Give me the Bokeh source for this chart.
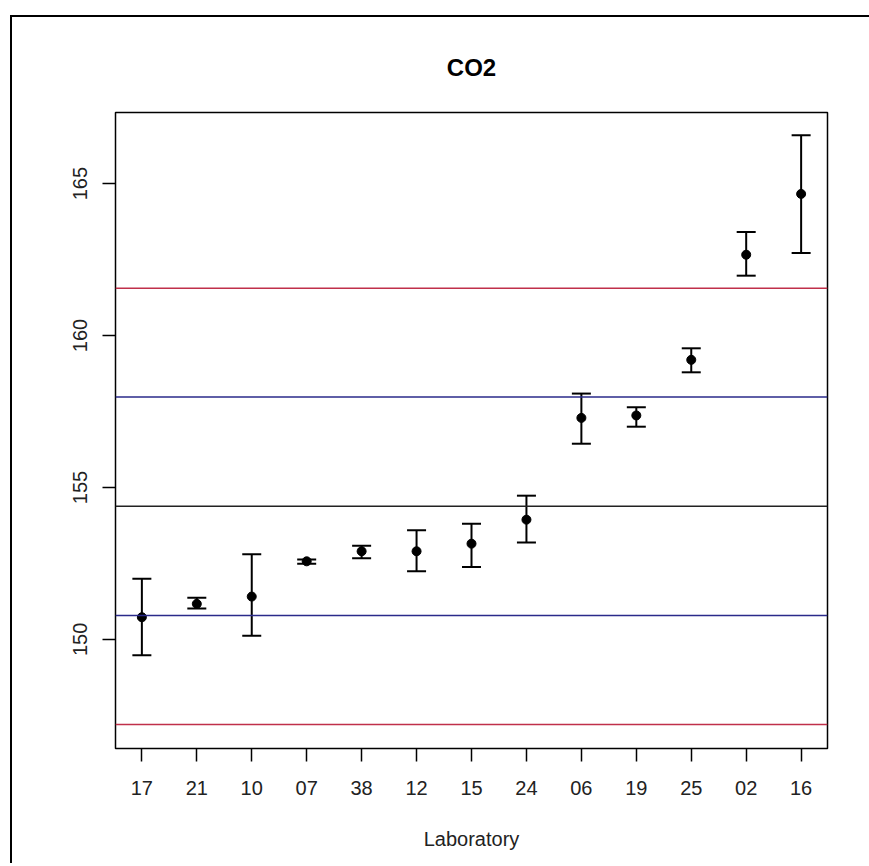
from bokeh.plotting import figure
from bokeh.models import ColumnDataSource, Range1d, FixedTicker, Span, Whisker, TeeHead
from bokeh.embed import file_html
from bokeh.resources import INLINE

# laboratories in plotted order, means and interval ends
labs = ["17", "21", "10", "07", "38", "12", "15", "24", "06", "19", "25", "02", "16"]
means = [150.73, 151.17, 151.41, 152.57, 152.90, 152.90, 153.15, 153.94, 157.29, 157.37, 159.20, 162.66, 164.66]
upper = [152.00, 151.37, 152.80, 152.63, 153.08, 153.59, 153.81, 154.73, 158.09, 157.64, 159.58, 163.41, 166.59]
lower = [149.48, 151.02, 150.12, 152.49, 152.67, 152.24, 152.38, 153.19, 156.44, 157.00, 158.79, 161.97, 162.72]

# reference lines: assigned value, +/- blue limits, +/- red limits
center_value = 154.38
blue_limits = [150.79, 157.98]
red_limits = [147.20, 161.56]

y_ticks = [150, 155, 160, 165]

FONT = "Liberation Sans"

pos = list(range(1, len(labs) + 1))
source = ColumnDataSource(data={
    'pos': pos,
    'lab': labs,
    'mean': means,
    'upper': upper,
    'lower': lower,
})

p = figure(width=870, height=848, output_backend="svg", toolbar_location=None,
           x_range=Range1d(0.52, len(labs) + 0.48), y_range=Range1d(146.41, 167.34),
           min_border_left=103, min_border_right=55, min_border_top=95, min_border_bottom=117,
           x_axis_label="Laboratory")

# page frame seen at the top and left of the original figure
p.styles = {"border-left": "2px solid black", "border-top": "2px solid black",
            "margin-top": "15px", "margin-left": "10px"}

p.title.text = "CO2"
p.title.align = "center"
p.title.text_font = FONT
p.title.text_font_size = "24px"
p.title.text_font_style = "bold"
p.title.text_color = "black"
p.title.standoff = 64

p.outline_line_color = "black"
p.outline_line_width = 1.5
p.xgrid.visible = False
p.ygrid.visible = False
p.background_fill_color = "white"
p.border_fill_color = "white"

for ax in (p.xaxis[0], p.yaxis[0]):
    ax.axis_line_color = None
    ax.major_tick_out = 13
    ax.major_tick_in = 0
    ax.major_tick_line_width = 1.5
    ax.major_tick_line_color = "black"
    ax.minor_tick_line_color = None
    ax.major_label_text_font = FONT
    ax.major_label_text_font_size = "20px"
    ax.major_label_text_color = "#222222"

p.xaxis[0].ticker = FixedTicker(ticks=pos)
p.xaxis[0].major_label_overrides = {i: l for i, l in zip(pos, labs)}
p.xaxis[0].major_label_standoff = 19
p.xaxis[0].axis_label_text_font = FONT
p.xaxis[0].axis_label_text_font_size = "20px"
p.xaxis[0].axis_label_text_font_style = "normal"
p.xaxis[0].axis_label_text_color = "#222222"
p.xaxis[0].axis_label_standoff = 30

p.yaxis[0].ticker = FixedTicker(ticks=y_ticks)
p.yaxis[0].major_label_orientation = "vertical"
p.yaxis[0].major_label_standoff = 15

# horizontal reference lines
p.add_layout(Span(location=center_value, dimension="width", line_color="#222222", line_width=1.5))
for v in blue_limits:
    p.add_layout(Span(location=v, dimension="width", line_color="#2a2a8a", line_width=1.5))
for v in red_limits:
    p.add_layout(Span(location=v, dimension="width", line_color="#c0304a", line_width=1.5))

# error bars
whisk = Whisker(source=source, base="pos", upper="upper", lower="lower",
                line_color="black", line_width=2,
                upper_head=TeeHead(size=19, line_color="black", line_width=2),
                lower_head=TeeHead(size=19, line_color="black", line_width=2))
p.add_layout(whisk)

p.scatter(x='pos', y='mean', source=source, size=9, color="black")

html = file_html(p, INLINE)
# the figure runs past the window edge like the cropped original; hide scrollbars
html = html.replace("</head>", "<style>html, body { overflow: hidden; }</style>\n</head>", 1)
open("out.html", "w").write(html)
